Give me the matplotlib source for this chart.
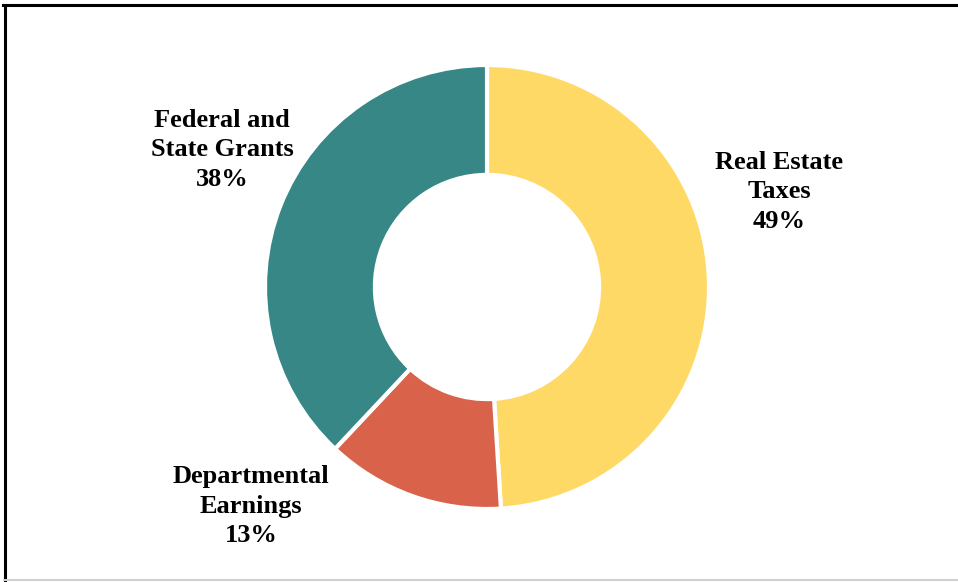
import matplotlib.pyplot as plt
from matplotlib.lines import Line2D

# revenue sources, clockwise from the top
sources = ['Real Estate\nTaxes', 'Departmental\nEarnings', 'Federal and\nState Grants']
shares = [49, 13, 38]
colors = ['#FFD966', '#D8624A', '#378786']

W, H = 958, 582
fig = plt.figure(figsize=(W / 100, H / 100), dpi=100)

# donut centre (487, 287) px from top-left, outer radius 222 px
cx, cy, r = 487, 287, 222
ax = fig.add_axes([(cx - r) / W, (H - cy - r) / H, 2 * r / W, 2 * r / H])
wedges, _ = ax.pie(shares, colors=colors, startangle=90, counterclock=False,
                   radius=1.0, wedgeprops=dict(width=0.495, edgecolor='white', linewidth=3))
ax.set_xlim(-1, 1)
ax.set_ylim(-1, 1)
ax.set_aspect('equal')
ax.axis('off')

# label positions (px, centre of text block)
label_pos = [(779, 192), (251, 506), (222, 150)]
for name, pct, (x, y) in zip(sources, shares, label_pos):
    fig.text(x / W, 1 - y / H, f'{name}\n{pct}%', ha='center', va='center',
             family='Liberation Serif', fontweight='bold', fontsize=19,
             linespacing=1.36, color='black')

# chart frame
fig.add_artist(Line2D([3 / W, 1], [1 - 5 / H, 1 - 5 / H], color='black', lw=2.2,
                      transform=fig.transFigure))
fig.add_artist(Line2D([4.5 / W, 4.5 / W], [1 - 5 / H, 1 - 580 / H], color='black', lw=2.2,
                      transform=fig.transFigure))
fig.add_artist(Line2D([4 / W, 1], [1 - 580 / H, 1 - 580 / H], color='#d0d0d0', lw=1.5,
                      transform=fig.transFigure))

fig.savefig('out.png', dpi=100)
